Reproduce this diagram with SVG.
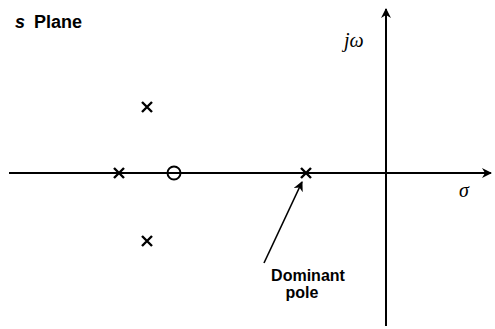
<svg xmlns="http://www.w3.org/2000/svg" width="495" height="329" viewBox="0 0 495 329">
<style>
.ax{stroke:#000;stroke-width:2;fill:none}
.x{stroke:#000;stroke-width:2.4;fill:none}
.t{font-family:"Liberation Sans",Arial,sans-serif;font-weight:bold;font-size:16px;fill:#000}
.i{font-family:"Liberation Serif","Times New Roman",serif;font-style:italic;font-size:20px;fill:#000}
</style>
<defs>
<marker id="ah" markerWidth="10" markerHeight="10" refX="9" refY="5" orient="auto" markerUnits="userSpaceOnUse">
<path d="M0,0 L10,5 L0,10 L3,5 Z" fill="#000"/>
</marker>
</defs>
<rect width="495" height="329" fill="#fff"/>
<g id="connectors">
<line class="ax" x1="9" y1="173" x2="491" y2="173" marker-end="url(#ah)"/>
<line class="ax" x1="386" y1="326" x2="386" y2="9" marker-end="url(#ah)"/>
<line stroke="#000" stroke-width="1.6" x1="264" y1="263" x2="302" y2="182" marker-end="url(#ah)"/>
</g>
<g id="pole1"><path class="x" d="M114,168 L124,178 M124,168 L114,178"/></g>
<g id="pole2"><path class="x" d="M142,102 L152,112 M152,102 L142,112"/></g>
<g id="pole3"><path class="x" d="M142,236 L152,246 M152,236 L142,246"/></g>
<g id="pole4"><path class="x" d="M301,168 L311,178 M311,168 L301,178"/></g>
<g id="zero"><circle cx="174" cy="173" r="6.5" fill="#fff" stroke="#000" stroke-width="2"/><line x1="167" y1="173" x2="181" y2="173" stroke="#000" stroke-width="2"/></g>
<g id="title"><text class="t" x="15" y="28" style="font-size:18px"><tspan font-style="italic">s</tspan><tspan x="34">Plane</tspan></text></g>
<g id="jw"><text class="i" x="344" y="47">jω</text></g>
<g id="sigma"><text class="i" x="459" y="197">σ</text></g>
<g id="label"><text class="t" x="308" y="281" text-anchor="middle">Dominant</text><text class="t" x="302" y="298" text-anchor="middle">pole</text></g>
</svg>
